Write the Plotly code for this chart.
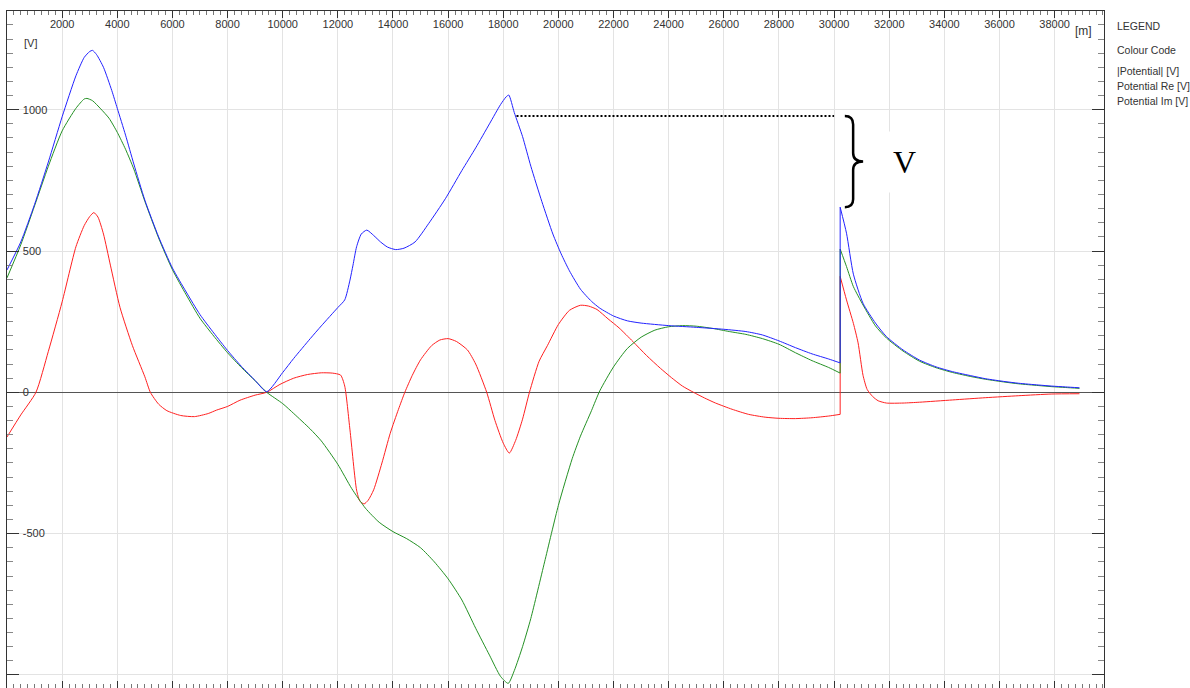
import plotly.graph_objects as go

# ---------------- data ----------------
abs_x = [0, 500, 1000, 1500, 2000, 2500, 2800, 3000, 3100, 3250, 3500, 3800, 4000, 4300, 4600, 5000,
         5500, 6000, 6500, 7000, 7500, 8000, 8500, 9000, 9420, 10000, 10400, 11000, 11400, 12000,
         12250, 12440, 12550, 12680, 12850, 13050, 13300, 13550, 13800, 14100, 14400, 14800, 15300,
         15900, 16500, 17000, 17500, 17900, 18100, 18200, 18400, 18700, 19000, 19400, 19800, 20100,
         20400, 20800, 21200, 21500, 22000, 22500, 23000, 24000, 25000, 26000, 26800, 27400, 28000,
         28600, 29200, 29800, 30220, 30220, 30450, 30700, 31050, 31500, 31900, 32500, 33100, 33700,
         34300, 35000, 35500, 36200, 36700, 37400, 37900, 38400, 38900]
abs_y = [433, 532, 665, 815, 975, 1120, 1185, 1206, 1210, 1195, 1150, 1068, 1005, 910, 808, 680,
         550, 440, 355, 275, 210, 148, 92, 42, 2, 70, 120, 190, 235, 300,
         327, 397, 450, 515, 560, 574, 555, 532, 514, 505, 510, 532, 598,
         685, 785, 865, 950, 1018, 1045, 1052, 990, 905, 800, 675, 560, 490,
         430, 365, 322, 298, 270, 253, 245, 236, 230, 223, 215, 203, 182,
         158, 136, 118, 104, 655, 563, 418, 315, 245, 197, 150, 114, 90,
         73, 58, 48, 38, 32, 26, 22, 19, 16]

re_x = [0, 500, 1000, 1500, 2000, 2500, 2800, 2900, 3100, 3400, 3700, 4000, 4300, 4600, 5000, 5500,
        6000, 6500, 7000, 7500, 8000, 8500, 9000, 9420, 10000, 10400, 11000, 11400, 12000, 12500,
        13000, 13500, 14000, 14500, 15000, 15500, 16000, 16500, 17000, 17500, 17900, 18180, 18400,
        18700, 19000, 19500, 20000, 20500, 20800, 21200, 21500, 22000, 22500, 23000, 23500, 24000,
        24500, 25000, 25600, 26200, 26800, 27400, 28000, 28600, 29200, 29800, 30220, 30220, 30450,
        30700, 31050, 31500, 31900, 32500, 33100, 33700, 34300, 35000, 35500, 36200, 36700, 37400,
        37900, 38400, 38900]
re_y = [405, 522, 660, 800, 925, 1005, 1038, 1040, 1032, 1003, 970, 920, 860, 790, 676, 546,
        434, 345, 262, 199, 140, 88, 41, 0, -40, -75, -130, -172, -255, -340,
        -410, -460, -493, -518, -550, -600, -660, -735, -835, -930, -1005, -1030, -985,
        -900, -800, -600, -400, -235, -155, -65, 5, 90, 155, 195, 220, 232,
        236, 234, 226, 215, 205, 190, 170, 140, 112, 88, 68, 507, 445,
        374, 309, 235, 192, 146, 110, 87, 70, 55, 46, 36, 30, 24,
        20, 17, 14]

im_x = [0, 500, 1050, 1500, 2000, 2500, 2800, 3000, 3150, 3300, 3500, 3750, 4100, 4550, 5000,
        5200, 5500, 5800, 6300, 6800, 7300, 7600, 8000, 8450, 9000, 9420, 9900, 10400, 10900,
        11400, 11800, 12100, 12250, 12440, 12680, 12800, 12950, 13100, 13300, 13600, 13900, 14200,
        14430, 14700, 15000, 15400, 15700, 16000, 16300, 16700, 17000, 17400, 17700, 18000, 18220,
        18450, 18700, 18950, 19300, 19600, 20000, 20400, 20800, 21100, 21400, 21800, 22200, 22700,
        23200, 23700, 24100, 24500, 24900, 25300, 25700, 26300, 26900, 27500, 28000, 28600, 29200,
        29800, 30220, 30220, 30450, 30700, 30870, 31050, 31200, 31400, 31600, 31900, 32500, 33100,
        34300, 35500, 36700, 37900, 38900]
im_y = [-158, -80, 0, 145, 320, 515, 590, 622, 636, 620, 560, 450, 300, 165, 55,
        0, -42, -65, -82, -86, -75, -63, -50, -28, -10, 0, 28, 50, 63,
        69, 68, 61, 22, -133, -346, -385, -395, -382, -345, -250, -145, -60,
        0, 60, 115, 165, 185, 190, 180, 150, 100, 0, -100, -180, -215,
        -170, -95, 0, 110, 165, 240, 290, 308, 305, 293, 260, 228, 180,
        130, 85, 52, 22, 0, -20, -38, -60, -78, -88, -92, -93, -90,
        -84, -78, 410, 327, 244, 175, 60, 10, -15, -30, -38, -38, -35,
        -27, -19, -12, -6, -5]

series_names = ["|Potential| [V]", "Potential Re [V]", "Potential Im [V]"]
series_colors = ["#2222ff", "#249124", "#ff2020"]
x_tick_vals = list(range(2000, 38001, 2000))
x_tick_text = [str(v) for v in x_tick_vals]
y_tick_vals = [-1000, -500, 0, 500, 1000]
y_tick_text = ["", "-500", "0", "500", "1000"]

# dotted reference line and the brace span
ref_x = [18480, 30000]
ref_level = 978
brace_top = 978
brace_bottom = 655

# ---------------- figure ----------------
W, H = 1190, 688
ML, MR, MT, MB = 7, 86, 11, 0
PW, PH = W - ML - MR, H - MT - MB
X_RANGE = [0, 39790]
Y_RANGE = [-1046.3, 1349.3]


def px(x):
    return (x - ML) / PW


def py(y):
    return (H - MB - y) / PH


FONT = "Liberation Sans, Arial, sans-serif"

fig = go.Figure()


def add_series(xs, ys, name, color):
    # split at the step (duplicate x): smooth parts + straight vertical jump
    j = next(i for i in range(1, len(xs)) if xs[i] == xs[i - 1])
    common = dict(mode="lines", name=name, showlegend=False)
    fig.add_trace(go.Scatter(x=xs[:j], y=ys[:j], line=dict(color=color, width=1,
                             shape="spline", smoothing=0.6), **common))
    fig.add_trace(go.Scatter(x=xs[j - 1:j + 1], y=ys[j - 1:j + 1],
                             line=dict(color=color, width=1), **common))
    fig.add_trace(go.Scatter(x=xs[j:], y=ys[j:], line=dict(color=color, width=1,
                             shape="spline", smoothing=0.6), **common))


add_series(im_x, im_y, series_names[2], series_colors[2])
add_series(re_x, re_y, series_names[1], series_colors[1])
add_series(abs_x, abs_y, series_names[0], series_colors[0])

fig.add_trace(go.Scatter(x=ref_x, y=[ref_level, ref_level], mode="lines", showlegend=False,
                         hoverinfo="skip", line=dict(color="black", width=2, dash="2px,2px")))

# hidden trace on overlay axes that carry the tick marks
fig.add_trace(go.Scatter(x=[None], y=[None], xaxis="x2", yaxis="y2", showlegend=False,
                         hoverinfo="skip"))

# brace
bx0, bx1, bx2 = 30390, 30691, 31054
mid = (brace_top + brace_bottom) / 2
brace_path = (f"M {bx0},{brace_top} Q {bx1},{brace_top} {bx1},{brace_top-30} "
              f"L {bx1},{mid+30} Q {bx1},{mid} {bx2},{mid} "
              f"Q {bx1},{mid} {bx1},{mid-30} "
              f"L {bx1},{brace_bottom+28} Q {bx1},{brace_bottom} {bx0},{brace_bottom}")
fig.add_shape(type="path", path=brace_path, xref="x", yref="y",
              line=dict(color="black", width=2.5))

fig.add_annotation(x=32566, y=mid, xref="x", yref="y", text="V", showarrow=False,
                   font=dict(family="Liberation Serif, Times New Roman, serif", size=32, color="black"),
                   bgcolor="white", borderpad=12)

# axis unit labels
fig.add_annotation(x=px(22), y=py(43), xref="paper", yref="paper", text="[V]", showarrow=False,
                   xanchor="left", yanchor="middle", font=dict(family=FONT, size=11, color="#333"))
fig.add_annotation(x=px(1083), y=py(31), xref="paper", yref="paper", text="[m]", showarrow=False,
                   xanchor="center", yanchor="middle", font=dict(family=FONT, size=12, color="#333"))

# legend (text only, as in the reference)
legend_lines = [("LEGEND", 26), ("Colour Code", 50)] + list(zip(series_names, [71, 86, 101]))
for txt, ypix in legend_lines:
    fig.add_annotation(x=px(1115), y=py(ypix), xref="paper", yref="paper", text=txt,
                       showarrow=False, xanchor="left", yanchor="middle",
                       font=dict(family=FONT, size=10.5, color="#333"))

fig.update_layout(
    width=W, height=H,
    margin=dict(l=ML, r=MR, t=MT, b=MB, autoexpand=False),
    paper_bgcolor="white", plot_bgcolor="white",
    showlegend=False,
    font=dict(family=FONT, size=11, color="#333"),
    xaxis=dict(
        side="top", range=X_RANGE,
        tickmode="array", tickvals=x_tick_vals, ticktext=x_tick_text,
        ticks="", ticklabelposition="inside", ticklabelstandoff=9,
        tickfont=dict(size=11, color="#333"),
        showgrid=True, gridcolor="#e3e3e3", gridwidth=1,
        showline=True, linecolor="#333", linewidth=1, mirror=True,
        zeroline=False,
    ),
    yaxis=dict(
        range=Y_RANGE,
        tickmode="array", tickvals=y_tick_vals, ticktext=y_tick_text,
        ticks="", ticklabelposition="inside", ticklabelstandoff=15,
        tickfont=dict(size=11, color="#333"),
        showgrid=True, gridcolor="#e3e3e3", gridwidth=1,
        showline=True, linecolor="#333", linewidth=1, mirror=True,
        zeroline=True, zerolinecolor="#555", zerolinewidth=1,
    ),
    xaxis2=dict(
        overlaying="x", side="top", range=X_RANGE, showticklabels=False,
        tickmode="array", tickvals=x_tick_vals,
        ticks="inside", ticklen=7, tickcolor="#333", tickwidth=1,
        showgrid=False, zeroline=False,
        showline=True, linecolor="#333", linewidth=1, mirror="ticks",
        minor=dict(tickmode="array", tickvals=list(range(0, 40000, 250)),
                   ticks="inside", ticklen=4, tickcolor="#777", showgrid=False),
    ),
    yaxis2=dict(
        overlaying="y", side="left", range=Y_RANGE, showticklabels=False,
        tickmode="array", tickvals=y_tick_vals,
        ticks="inside", ticklen=12, tickcolor="#333", tickwidth=1,
        showgrid=False, zeroline=False,
        showline=True, linecolor="#333", linewidth=1, mirror="ticks",
        minor=dict(tickmode="array", tickvals=list(range(-1050, 1400, 50)),
                   ticks="inside", ticklen=6, tickcolor="#888", showgrid=False),
    ),
)

fig.write_html("out.html")
